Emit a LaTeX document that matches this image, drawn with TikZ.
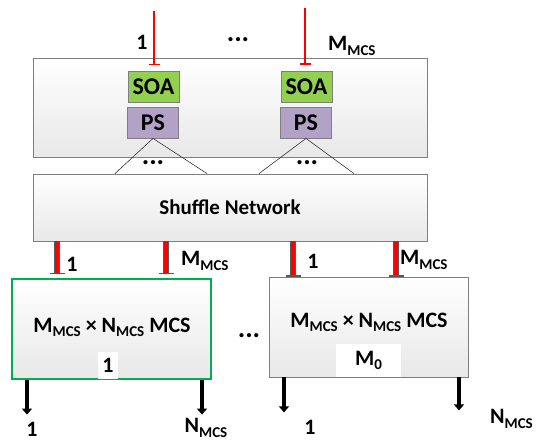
\documentclass[tikz,border=0pt]{standalone}
\usepackage{fontspec}
\setmainfont{Carlito}
\usepackage{tikz}
\usetikzlibrary{arrows.meta, calc}

\definecolor{soagreen}{HTML}{92D050}
\definecolor{pslilac}{HTML}{B3A2C7}
\definecolor{edgegray}{HTML}{7F7F7F}
\definecolor{mcsgreen}{HTML}{00B050}

\newcommand{\lowtext}[1]{\raisebox{-0.4ex}{\fontsize{15}{15}\selectfont #1}}

\tikzset{
	panel/.style={draw=edgegray, line width=0.8pt, top color=white, bottom color=black!9, inner sep=0pt},
	greenpanel/.style={panel, draw=mcsgreen, line width=1.2pt},
	chip/.style={draw=edgegray, line width=0.8pt, minimum width=51pt, minimum height=31pt, inner sep=0pt, font=\fontsize{24}{26}\selectfont\bfseries},
	tag/.style={fill=white, inner sep=0pt, font=\fontsize{22}{24}\selectfont\bfseries},
	lbl/.style={font=\fontsize{22}{24}\selectfont\bfseries, inner sep=0pt},
	dotlbl/.style={font=\fontsize{28}{30}\selectfont\bfseries, inner sep=0pt},
	inarrow/.style={draw=red, line width=2.2pt, -{Bar[width=11pt, line width=1.2pt]}},
	busarrow/.style={draw=black!65, line width=6pt, -{Bar[width=15pt, line width=1.2pt]},
		postaction={draw=red, line width=3.6pt, -, shorten >=1.2pt}},
	outarrow/.style={draw=black, line width=3.2pt, -{Triangle[width=10pt, length=6pt]}},
	fanline/.style={draw=black!80, line width=0.6pt}
}

\begin{document}
\begin{tikzpicture}[x=1pt, y=-1pt]
	\useasboundingbox (0,0) rectangle (536,443);

	% Drawing the input stage and the shuffle network
	\node[panel, minimum width=394pt, minimum height=99pt] (stage) at (230,107.5) {};
	\node[panel, minimum width=394pt, minimum height=67pt, font=\fontsize{21}{23}\selectfont\bfseries] (shuffle) at (230,207.5) {Shuffle Network};

	% Drawing the SOA and PS chips
	\node[chip, fill=soagreen] (soa1) at (153.5,87) {SOA};
	\node[chip, fill=soagreen] (soa2) at (306.5,86.5) {SOA};
	\node[chip, fill=pslilac] (ps1) at (153,122.5) {PS};
	\node[chip, fill=pslilac] (ps2) at (306,122.5) {PS};

	% Drawing the fan-out lines
	\draw[fanline] (ps1.south) -- (shuffle.north -| 115,0);
	\draw[fanline] (ps1.south) -- (shuffle.north -| 207,0);
	\draw[fanline] (ps2.south) -- (shuffle.north -| 259,0);
	\draw[fanline] (ps2.south) -- (shuffle.north -| 354,0);
	\node[dotlbl] (fan1) at (153,163) {...};
	\node[dotlbl] (fan2) at (307,163) {...};

	% Drawing the MCS blocks
	\node[greenpanel, minimum width=199pt, minimum height=100pt] (mcs1) at (111.5,329) {};
	\node[panel, minimum width=199pt, minimum height=100pt] (mcs2) at (368.5,327) {};
	\node[lbl] (name1) at (112,327) {M\lowtext{MCS} × N\lowtext{MCS} MCS};
	\node[lbl] (name2) at (369,322) {M\lowtext{MCS} × N\lowtext{MCS} MCS};
	\node[tag, minimum width=20pt, minimum height=27pt] (tag1) at (108,365.5) {1};
	\node[tag, minimum width=65pt, minimum height=33pt] (tag2) at (368.5,360.5) {M\lowtext{0}};
	\node[dotlbl] (gap) at (249,336) {...};

	% Drawing the input arrows and labels
	\coordinate (in1) at (154,11);
	\coordinate (in2) at (305,8);
	\draw[inarrow] (in1) -- ($(soa1.north -| in1)+(0,-6)$);
	\draw[inarrow] (in2) -- ($(soa2.north -| in2)+(0,-6)$);
	\node[lbl] (inlbl1) at (142,42) {1};
	\node[dotlbl] (indots) at (238,40) {...};
	\node[lbl, anchor=west] (inlbl2) at (328,46) {M\lowtext{MCS}};

	% Drawing the bus arrows between shuffle network and MCS blocks
	\draw[busarrow] (shuffle.south -| 57,0) -- ($(mcs1.north -| 57,0)+(0,-4)$);
	\draw[busarrow] (shuffle.south -| 166,0) -- ($(mcs1.north -| 166,0)+(0,-4)$);
	\draw[busarrow] (shuffle.south -| 293,0) -- (mcs2.north -| 293,0);
	\draw[busarrow] (shuffle.south -| 396,0) -- (mcs2.north -| 396,0);
	\node[lbl] (buslbl1) at (72,264) {1};
	\node[lbl, anchor=west] (buslbl2) at (181,261) {M\lowtext{MCS}};
	\node[lbl] (buslbl3) at (313,261) {1};
	\node[lbl, anchor=west] (buslbl4) at (400,260) {M\lowtext{MCS}};

	% Drawing the output arrows and labels
	\draw[outarrow] (mcs1.south -| 27,0) -- ++(0,35);
	\draw[outarrow] (mcs1.south -| 202,0) -- ++(0,35);
	\draw[outarrow] (mcs2.south -| 284,0) -- ++(0,35);
	\draw[outarrow] (mcs2.south -| 459,0) -- ++(0,33);
	\node[lbl] (outlbl1) at (32,429) {1};
	\node[lbl] (outlbl2) at (206,428) {N\lowtext{MCS}};
	\node[lbl] (outlbl3) at (310,427) {1};
	\node[lbl, anchor=west] (outlbl4) at (490,419) {N\lowtext{MCS}};
\end{tikzpicture}
\end{document}
